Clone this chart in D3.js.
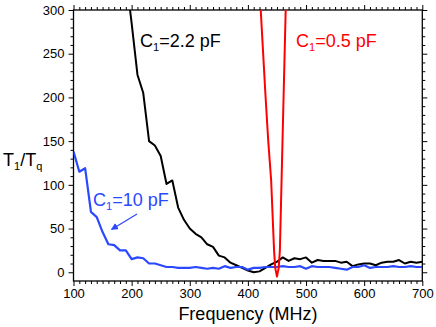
<!DOCTYPE html>
<html><head><meta charset="utf-8">
<script src="https://cdn.jsdelivr.net/npm/d3@7"></script>
<style>
html,body{margin:0;padding:0;background:#fff;}
svg{display:block;font-family:"Liberation Sans",Arial,sans-serif;}
</style></head>
<body><svg id="c" width="436" height="327"></svg>
<script>
// Frequencies (MHz) and T1/Tq values
const freqBlack = [190,200,210,220,230,240,250,260,270,280,290,300,310,320,330,340,350,360,370,380,390,400,410,420,430,440,450,460,470,480,490,500,510,520,530,540,550,560,570,580,590,600,610,620,630,640,650,660,670,680,690,700];
const valBlack  = [340,285,226,205,150,145,133,101,105,74,60,50,44,40,32,29,19,17,11,8,5,2,0,1,5,9,12,17,13,16,15,17,11,14,13,13,13,11,12,7,9,10,10,8,11,12,12,14,10,12,11,12];
const freqBlue = [100,110,120,130,140,150,160,170,180,190,200,210,220,230,240,250,260,270,280,290,300,310,320,330,340,350,360,370,380,390,400,410,420,430,440,450,460,470,480,490,500,510,520,530,540,550,560,570,580,590,600,610,620,630,640,650,660,670,680,690,700];
const valBlue  = [138,115,119,69,63,46,32,31,25,25,15,17,16,10,10,8,6,6,5,5,5,6,5,4,5,4,7,5,6,6,3,5,5,6,6,6,7,6,6,7,4,7,6,6,6,5,4,3,6,6,8,5,6,6,6,7,6,6,7,6,6];
const freqRed = [415,420,425,430,435,440,445,447,450,453,455,460,465,470];
const valRed  = [385,325,265,205,150,105,25,5,-5,5,25,163,300,440];
const xTicks = [100,200,300,400,500,600,700];
const yTicks = [0,50,100,150,200,250,300];

const svg = d3.select("#c");
const L=73.5, R=422.3, T=10, B=281;
const x = d3.scaleLinear().domain([100,700]).range([L,R]);
const y = d3.scaleLinear().domain([-10,300]).range([B,T]);

svg.append("clipPath").attr("id","clip").append("rect")
  .attr("x",L).attr("y",T).attr("width",R-L).attr("height",B-T);

const minorX = d3.range(100,701,10).filter(v=>v%100!==0);
const minorY = d3.range(0,301,10).filter(v=>v%50!==0);

function styleAxis(g){
  g.select(".domain").remove();
  g.selectAll("line").attr("stroke","#000").attr("stroke-width",1);
  g.selectAll("text").attr("font-size","13px").attr("fill","#000");
}
// bottom
svg.append("g").attr("transform",`translate(0,${B})`)
  .call(d3.axisBottom(x).tickValues(xTicks).tickSize(5).tickPadding(3).tickFormat(d3.format("d"))).call(styleAxis);
svg.append("g").attr("transform",`translate(0,${B})`)
  .call(d3.axisBottom(x).tickValues(minorX).tickSize(3).tickFormat("")).call(styleAxis);
// top
svg.append("g").attr("transform",`translate(0,${T})`)
  .call(d3.axisTop(x).tickValues(xTicks).tickSize(5).tickFormat("")).call(styleAxis);
svg.append("g").attr("transform",`translate(0,${T})`)
  .call(d3.axisTop(x).tickValues(minorX).tickSize(3).tickFormat("")).call(styleAxis);
// left
svg.append("g").attr("transform",`translate(${L},0)`)
  .call(d3.axisLeft(y).tickValues(yTicks).tickSize(5).tickPadding(4).tickFormat(d3.format("d"))).call(styleAxis);
svg.append("g").attr("transform",`translate(${L},0)`)
  .call(d3.axisLeft(y).tickValues(minorY).tickSize(3).tickFormat("")).call(styleAxis);
// right
svg.append("g").attr("transform",`translate(${R},0)`)
  .call(d3.axisRight(y).tickValues(yTicks).tickSize(5).tickFormat("")).call(styleAxis);
svg.append("g").attr("transform",`translate(${R},0)`)
  .call(d3.axisRight(y).tickValues(minorY).tickSize(3).tickFormat("")).call(styleAxis);

svg.append("rect").attr("x",L).attr("y",T).attr("width",R-L).attr("height",B-T)
  .attr("fill","none").attr("stroke","#000").attr("stroke-width",1.3);

const line = d3.line().x(d=>x(d[0])).y(d=>y(d[1]));
const plot = svg.append("g").attr("clip-path","url(#clip)");
function draw(fs, vs, color, w){
  plot.append("path").datum(fs.map((f,i)=>[f,vs[i]]))
    .attr("d",line).attr("fill","none").attr("stroke",color)
    .attr("stroke-width",w).attr("stroke-linejoin","round");
}
draw(freqBlack, valBlack, "#000", 2);
draw(freqBlue, valBlue, "#2a48ff", 2.2);
draw(freqRed, valRed, "#ff0000", 2);

function label(xp, yp, color, parts){
  const t = svg.append("text").attr("x",xp).attr("y",yp).attr("fill",color).attr("font-size","18px");
  parts.forEach(p=>{
    const s = t.append("tspan").text(p.t);
    if(p.sub){ s.attr("font-size","11px").attr("dy",4); }
    else if(p.after){ s.attr("dy",-4); }
  });
  return t;
}
label(140, 47, "#000", [{t:"C"},{t:"1",sub:true},{t:"=2.2 pF",after:true}]);
label(296, 47, "#ff0000", [{t:"C"},{t:"1",sub:true},{t:"=0.5 pF",after:true}]);
label(93, 206, "#2a48ff", [{t:"C"},{t:"1",sub:true},{t:"=10 pF",after:true}]);
label(3, 166, "#000", [{t:"T"},{t:"1",sub:true},{t:"/T",after:true},{t:"q",sub:true}]);

svg.append("text").attr("x",(L+R)/2).attr("y",320).attr("text-anchor","middle")
  .attr("font-size","18px").attr("fill","#000").text("Frequency (MHz)");

// arrow
const defs = svg.append("defs");
defs.append("marker").attr("id","ah").attr("viewBox","0 0 10 10").attr("refX",9).attr("refY",5)
  .attr("markerWidth",6).attr("markerHeight",6).attr("orient","auto-start-reverse")
  .append("path").attr("d","M0,0 L10,5 L0,10 z").attr("fill","#2a48ff");
svg.append("line").attr("x1",137).attr("y1",214).attr("x2",111.5).attr("y2",229.5)
  .attr("stroke","#2a48ff").attr("stroke-width",1.2).attr("marker-end","url(#ah)");
</script></body></html>
